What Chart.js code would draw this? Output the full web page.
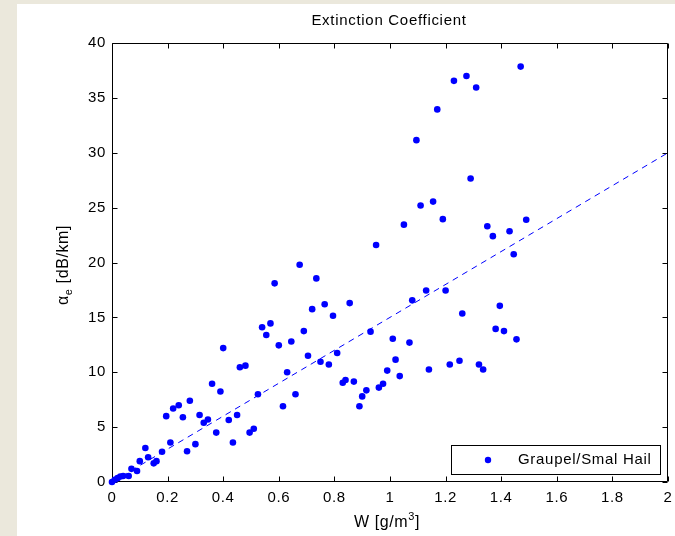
<!DOCTYPE html>
<html><head><meta charset="utf-8">
<script src="https://cdn.jsdelivr.net/npm/chart.js@4.4.0/dist/chart.umd.min.js"></script>
<style>html,body{margin:0;padding:0;background:#fff}#wrap{width:675px;height:536px}</style>
</head><body><div id="wrap"><canvas id="c" width="675" height="536"></canvas></div>
<script>
// Liquid water content W [g/m^3]
const W = [0.00,0.01,0.02,0.03,0.04,0.06,0.07,0.09,0.10,0.12,0.13,0.15,0.16,0.18,0.195,0.21,0.22,0.24,0.255,0.27,
  0.28,0.30,0.315,0.33,0.345,0.36,0.375,0.39,0.40,0.42,0.435,0.45,0.46,0.48,0.495,0.51,0.525,0.54,0.555,0.57,
  0.585,0.60,0.615,0.63,0.645,0.66,0.675,0.69,0.705,0.72,0.735,0.75,0.765,0.78,0.795,0.81,0.83,0.84,0.855,0.87,
  0.89,0.90,0.915,0.93,0.95,0.96,0.975,0.99,1.01,1.02,1.035,1.05,1.07,1.08,1.095,1.11,1.13,1.14,1.155,1.17,
  1.19,1.20,1.215,1.23,1.25,1.26,1.275,1.29,1.31,1.32,1.335,1.35,1.37,1.38,1.395,1.41,1.43,1.445,1.455,1.47,1.49];
// Extinction coefficient alpha_e [dB/km]
const alphaE = [0.0,0.2,0.35,0.5,0.55,0.55,1.2,1.0,1.9,3.1,2.25,1.7,1.9,2.75,6.0,3.6,6.7,7.0,5.9,2.8,
  7.4,3.45,6.1,5.4,5.7,8.95,4.5,8.25,12.2,5.65,3.6,6.1,10.45,10.6,4.5,4.85,8.0,14.1,13.4,14.45,
  18.1,12.45,6.9,10.0,12.8,8.0,19.8,13.75,11.5,15.75,18.55,10.95,16.2,10.7,15.15,11.75,9.05,9.3,16.3,9.15,
  6.9,7.8,8.35,13.7,21.6,8.6,8.95,10.15,13.05,11.15,9.65,23.45,12.7,16.55,31.15,25.2,17.45,10.25,25.55,33.95,
  23.95,17.45,10.7,36.55,11.05,15.35,37.0,27.65,35.95,10.7,10.25,23.3,22.4,13.95,16.05,13.75,22.85,20.75,13.0,37.85,23.9];
// Dashed fit line
const fitW = [0, 2];
const fitAlpha = [0, 30];
// Axis ticks
const xTickValues = [0,0.2,0.4,0.6,0.8,1,1.2,1.4,1.6,1.8,2];
const xTickLabels = ['0','0.2','0.4','0.6','0.8','1','1.2','1.4','1.6','1.8','2'];
const yTickValues = [0,5,10,15,20,25,30,35,40];
const yTickLabels = ['0','5','10','15','20','25','30','35','40'];
const titleText = 'Extinction Coefficient';
const legendLabel = 'Graupel/Smal Hail';

const FONT = '"Liberation Sans", Arial, Helvetica, sans-serif';
Chart.defaults.font.family = FONT;
Chart.defaults.font.size = 15;
Chart.defaults.color = '#000';
const SPACING = '0.6px';

const decor = {
  id: 'decor',
  beforeDraw(chart) {
    const ctx = chart.ctx;
    ctx.save();
    ctx.fillStyle = '#ffffff';
    ctx.fillRect(0, 0, chart.width, chart.height);
    ctx.fillStyle = '#ebe8dc';
    ctx.fillRect(0, 0, 17, chart.height);
    ctx.fillRect(0, 0, chart.width, 4);
    ctx.restore();
    ctx.letterSpacing = SPACING;
  },
  beforeDatasetsDraw(chart) {
    const ctx = chart.ctx, a = chart.chartArea;
    const xs = chart.scales.x, ys = chart.scales.y;
    ctx.save();
    ctx.strokeStyle = '#000';
    ctx.lineWidth = 1;
    const L = Math.round(a.left) + 0.5, R = Math.round(a.right) - 0.5;
    const T = Math.round(a.top) + 0.5, B = Math.round(a.bottom) - 0.5;
    ctx.beginPath();
    ctx.rect(L, T, R - L, B - T);
    const tl = 5;
    xTickValues.forEach(v => {
      const px = Math.round(xs.getPixelForValue(v)) + 0.5;
      ctx.moveTo(px, B); ctx.lineTo(px, B - tl);
      ctx.moveTo(px, T); ctx.lineTo(px, T + tl);
    });
    yTickValues.forEach(v => {
      const py = Math.round(ys.getPixelForValue(v)) + 0.5;
      ctx.moveTo(L, py); ctx.lineTo(L + tl, py);
      ctx.moveTo(R, py); ctx.lineTo(R - tl, py);
    });
    ctx.stroke();
    ctx.restore();
  },
  afterDatasetsDraw(chart) {
    const ctx = chart.ctx, a = chart.chartArea;
    ctx.save();
    ctx.letterSpacing = '0.7px';
    ctx.fillStyle = '#000';
    // title
    ctx.font = '15px ' + FONT;
    ctx.textAlign = 'center';
    ctx.textBaseline = 'middle';
    ctx.fillText(titleText, (a.left + a.right) / 2 - 1, 21);
    ctx.letterSpacing = '0.6px';
    // x axis title: W [g/m^3]
    const cx = (a.left + a.right) / 2 - 3;
    const base = 527;
    ctx.textBaseline = 'alphabetic';
    ctx.textAlign = 'left';
    const p1 = 'W [g/m', p2 = '3', p3 = ']';
    ctx.font = '16px ' + FONT;
    const w1 = ctx.measureText(p1).width, w3 = ctx.measureText(p3).width;
    ctx.font = '11px ' + FONT;
    const w2 = ctx.measureText(p2).width;
    let x0 = cx - (w1 + w2 + w3) / 2;
    ctx.font = '16px ' + FONT;
    ctx.fillText(p1, x0, base);
    ctx.font = '11px ' + FONT;
    ctx.fillText(p2, x0 + w1, base - 7);
    ctx.font = '16px ' + FONT;
    ctx.fillText(p3, x0 + w1 + w2, base);
    // y axis title: alpha_e [dB/km]
    ctx.save();
    ctx.translate(68, 265);
    ctx.rotate(-Math.PI / 2);
    const q1 = '\u03b1', q2 = 'e', q3 = ' [dB/km]';
    ctx.font = '16px ' + FONT;
    const v1 = ctx.measureText(q1).width, v3 = ctx.measureText(q3).width;
    ctx.font = '11px ' + FONT;
    const v2 = ctx.measureText(q2).width;
    let y0 = -(v1 + v2 + v3) / 2;
    ctx.font = '16px ' + FONT;
    ctx.fillText(q1, y0, 0);
    ctx.font = '11px ' + FONT;
    ctx.fillText(q2, y0 + v1, 4);
    ctx.font = '16px ' + FONT;
    ctx.fillText(q3, y0 + v1 + v2, 0);
    ctx.restore();
    // legend
    const lx = 451.5, ly = 445.5, lw = 209, lh = 29;
    ctx.fillStyle = '#fff';
    ctx.fillRect(lx, ly, lw, lh);
    ctx.strokeStyle = '#000';
    ctx.lineWidth = 1;
    ctx.strokeRect(lx, ly, lw, lh);
    ctx.fillStyle = '#0000ff';
    ctx.beginPath();
    ctx.arc(488, 460, 3.2, 0, Math.PI * 2);
    ctx.fill();
    ctx.fillStyle = '#000';
    ctx.font = '15px ' + FONT;
    ctx.letterSpacing = '0.7px';
    ctx.textAlign = 'left';
    ctx.textBaseline = 'middle';
    ctx.fillText(chart.data.datasets[0].label, 518, 460);
    ctx.restore();
  }
};

new Chart(document.getElementById('c'), {
  type: 'scatter',
  data: {
    datasets: [
      {
        label: legendLabel,
        data: W.map((w, i) => ({ x: w, y: alphaE[i] })),
        pointRadius: 3.3,
        pointHoverRadius: 3.3,
        backgroundColor: '#0000ff',
        borderColor: '#0000ff',
        borderWidth: 0,
        clip: false
      },
      {
        type: 'line',
        label: 'fit',
        data: fitW.map((w, i) => ({ x: w, y: fitAlpha[i] })),
        borderColor: '#0000ff',
        borderWidth: 1,
        borderDash: [6, 5],
        pointRadius: 0,
        fill: false,
        showLine: true
      }
    ]
  },
  options: {
    responsive: false,
    animation: false,
    devicePixelRatio: 1,
    layout: { padding: { left: 0, top: 43, right: 7, bottom: 0 } },
    plugins: { legend: { display: false }, tooltip: { enabled: false }, title: { display: false } },
    events: [],
    scales: {
      x: {
        type: 'linear', min: 0, max: 2,
        grid: { display: false, drawTicks: false },
        border: { display: false },
        afterBuildTicks: s => { s.ticks = xTickValues.map(v => ({ value: v })); },
        afterFit: s => { s.height = 54; s.paddingLeft = 0; s.paddingRight = 0; },
        ticks: { autoSkip: false, maxRotation: 0, padding: 7, color: '#000',
          callback: (v, i) => xTickLabels[i] }
      },
      y: {
        type: 'linear', min: 0, max: 40,
        grid: { display: false, drawTicks: false },
        border: { display: false },
        afterBuildTicks: s => { s.ticks = yTickValues.map(v => ({ value: v })); },
        afterFit: s => { s.width = 112; s.paddingTop = 0; s.paddingBottom = 0; },
        ticks: { autoSkip: false, padding: 6, color: '#000',
          callback: (v, i) => yTickLabels[i] }
      }
    }
  },
  plugins: [decor]
});
</script>
</body></html>
